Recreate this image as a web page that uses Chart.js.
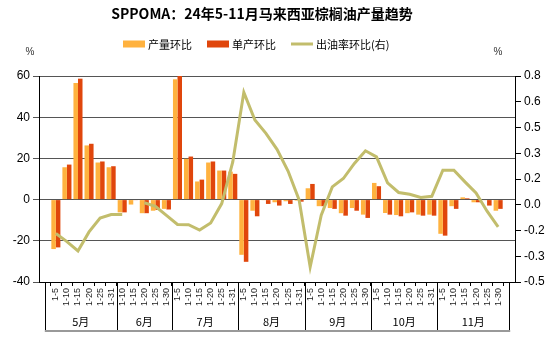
<!DOCTYPE html>
<html><head><meta charset="utf-8">
<script src="https://cdn.jsdelivr.net/npm/chart.js@4.4.0/dist/chart.umd.min.js"></script>
<style>html,body{margin:0;padding:0;background:#fff}#wrap{width:555px;height:339px}</style>
</head><body><div id="wrap"><canvas id="c" width="555" height="339"></canvas></div>
<script>
const titleText = 'SPPOMA：24年5-11月马来西亚棕榈油产量趋势';
const xLabels = [
  '1-5','1-10','1-15','1-20','1-25','1-31',
  '1-10','1-15','1-20','1-25','1-30',
  '1-5','1-10','1-15','1-20','1-25','1-31',
  '1-5','1-10','1-15','1-20','1-25','1-31',
  '1-5','1-10','1-15','1-20','1-25','1-30',
  '1-5','1-10','1-15','1-20','1-25','1-31',
  '1-5','1-10','1-15','1-20','1-25','1-30'
];
const monthNames = ['5月','6月','7月','8月','9月','10月','11月'];
const monthCounts = [6,5,6,6,6,6,6];
const seriesNames = ['产量环比','单产环比','出油率环比(右)'];
const outputMoM = [-24,15.7,56.6,26.3,18,15.7, -6.2,-2.4,-6.6,-5.4,-4.5, 58.4,19.8,8.8,18,14.1,13.6,
  -26.8,-5.4,-0.3,-1.3,-0.8,-0.5, 5.5,-3.2,-4.1,-6.6,-4.1,-7.3, 8.1,-6.5,-7.5,-6.6,-7.3,-7.3,
  -16.6,-3.2,1.1,-1.3,-0.3,-5.4];
const yieldMoM = [-23.2,17,58.7,27.1,18.5,16.2, -6.2,-0.2,-6.6,-5,-4.8, 60.5,20.9,9.7,18.5,14.1,12.5,
  -30.2,-8.1,-2.1,-2.9,-2.1,-1, 7.6,-3.2,-4.5,-7.8,-5.4,-8.9, 6.5,-7.3,-8.1,-6.2,-7.8,-7.8,
  -17.5,-4.5,0.6,-1.3,-2.9,-4.5];
const oerMoM = [-0.194,-0.245,-0.304,-0.184,-0.096,-0.074, -0.074,null,0.0,-0.022,-0.079,
  -0.137,-0.138,-0.172,-0.127,-0.005,0.258, 0.697,0.522,0.438,0.337,0.2,0.018,
  -0.405,-0.079,0.1,0.153,0.248,0.328, 0.29,0.126,0.065,0.054,0.034,0.041,
  0.206,0.206,0.132,0.062,-0.053,-0.152];
const leftTicks = [-40,-20,0,20,40,60];
const rightTickLabels = ['-0.5','-0.3','-0.2','0.0','0.2','0.3','0.5','0.6','0.8'];

const colors = ['#FFB23F','#E0460C','#C2BD6C'];
Chart.defaults.font.family = '"Liberation Sans", Arial, sans-serif';
Chart.defaults.color = '#000';

const rMin = parseFloat(rightTickLabels[0]);
const rMax = parseFloat(rightTickLabels[rightTickLabels.length-1]);

const deco = {
  id: 'deco',
  afterDraw(chart) {
    const ctx = chart.ctx, xs = chart.scales.x, a = chart.chartArea;
    ctx.save();
    ctx.fillStyle = '#000';
    ctx.font = 'bold 14px "Noto Sans CJK SC"';
    ctx.textAlign = 'center'; ctx.textBaseline = 'middle';
    ctx.fillText(titleText, 262, 14);
    ctx.font = '10px "Liberation Sans", Arial';
    ctx.fillStyle = '#333';
    ctx.fillText('%', 30, 52);
    ctx.fillText('%', 498, 52);
    // legend
    ctx.font = '11px "Noto Sans CJK SC"';
    ctx.textAlign = 'left';
    ctx.fillStyle = '#000';
    let lx = 123; const ly = 44;
    seriesNames.forEach((n, i) => {
      if (i < 2) { ctx.fillStyle = colors[i]; ctx.fillRect(lx, ly - 3.5, 22, 7); }
      else { ctx.strokeStyle = colors[i]; ctx.lineWidth = 3; ctx.beginPath(); ctx.moveTo(lx, ly); ctx.lineTo(lx + 22, ly); ctx.stroke(); }
      lx += 25;
      ctx.fillStyle = '#000';
      ctx.fillText(n, lx, ly + 1);
      lx += ctx.measureText(n).width + 15;
    });
    // month groups
    const bounds = [xs.getPixelForValue(-1)];
    let idx = 0;
    monthCounts.forEach(c => {
      idx += c;
      bounds.push(idx === xLabels.length ? xs.getPixelForValue(xLabels.length) : xs.getPixelForValue(idx - 0.5));
    });
    ctx.strokeStyle = '#000'; ctx.lineWidth = 1;
    bounds.forEach(b => {
      const bx = Math.round(b) + 0.5;
      ctx.beginPath(); ctx.moveTo(bx, a.bottom); ctx.lineTo(bx, 330); ctx.stroke();
    });
    ctx.strokeStyle = '#999'; ctx.lineWidth = 2;
    ctx.beginPath(); ctx.moveTo(bounds[0], 331); ctx.lineTo(bounds[bounds.length-1] + 1, 331); ctx.stroke();
    ctx.font = '11px "Noto Sans CJK SC"';
    ctx.textAlign = 'center'; ctx.fillStyle = '#000';
    monthNames.forEach((m, i) => ctx.fillText(m, (bounds[i] + bounds[i+1]) / 2, 322));
    ctx.restore();
  }
};

new Chart(document.getElementById('c'), {
  type: 'bar',
  data: {
    datasets: [
      { type: 'line', label: seriesNames[2], data: oerMoM.map((v,i)=>({x:i,y:v})), yAxisID: 'y1',
        borderColor: colors[2], backgroundColor: colors[2], borderWidth: 3, pointRadius: 0, tension: 0, spanGaps: false, order: 0 },
      { label: seriesNames[0], data: outputMoM.map((v,i)=>({x:i,y:v})), backgroundColor: colors[0], yAxisID: 'y', order: 1,
        categoryPercentage: 0.82, barPercentage: 1 },
      { label: seriesNames[1], data: yieldMoM.map((v,i)=>({x:i,y:v})), backgroundColor: colors[1], yAxisID: 'y', order: 1,
        categoryPercentage: 0.82, barPercentage: 1 }
    ]
  },
  options: {
    responsive: false, animation: false, events: [],
    layout: { padding: { top: 76, left: 0, right: 0, bottom: 0 } },
    plugins: { legend: { display: false }, title: { display: false }, tooltip: { enabled: false } },
    scales: {
      x: {
        type: 'linear', min: -1, max: xLabels.length, position: 'bottom',
        afterBuildTicks: s => { s.ticks = xLabels.map((_, i) => ({ value: i })); },
        afterFit: s => { s.height = 57; },
        ticks: { autoSkip: false, minRotation: 90, maxRotation: 90, padding: 2, font: { size: 9 }, color: '#222',
          callback: v => xLabels[v] ?? '' },
        grid: { drawOnChartArea: false, tickLength: 4, color: '#000' },
        border: { color: '#000' }
      },
      y: {
        position: 'left', min: leftTicks[0], max: leftTicks[leftTicks.length-1],
        afterBuildTicks: s => { s.ticks = leftTicks.map(v => ({ value: v })); },
        afterFit: s => { s.width = 39; },
        ticks: { font: { size: 12 }, padding: 3, color: '#000' },
        grid: { color: '#555', tickLength: 6 },
        border: { color: '#000' }
      },
      y1: {
        position: 'right', min: rMin, max: rMax,
        afterBuildTicks: s => { s.ticks = rightTickLabels.map((_, k) => ({ value: rMin + (rMax - rMin) * k / (rightTickLabels.length - 1) })); },
        afterFit: s => { s.width = 40; },
        ticks: { font: { size: 12 }, padding: 3, color: '#000', callback: (v, i) => rightTickLabels[i] },
        grid: { drawOnChartArea: false, tickLength: 6, color: '#000' },
        border: { color: '#000' }
      }
    }
  },
  plugins: [deco]
});
</script></body></html>
